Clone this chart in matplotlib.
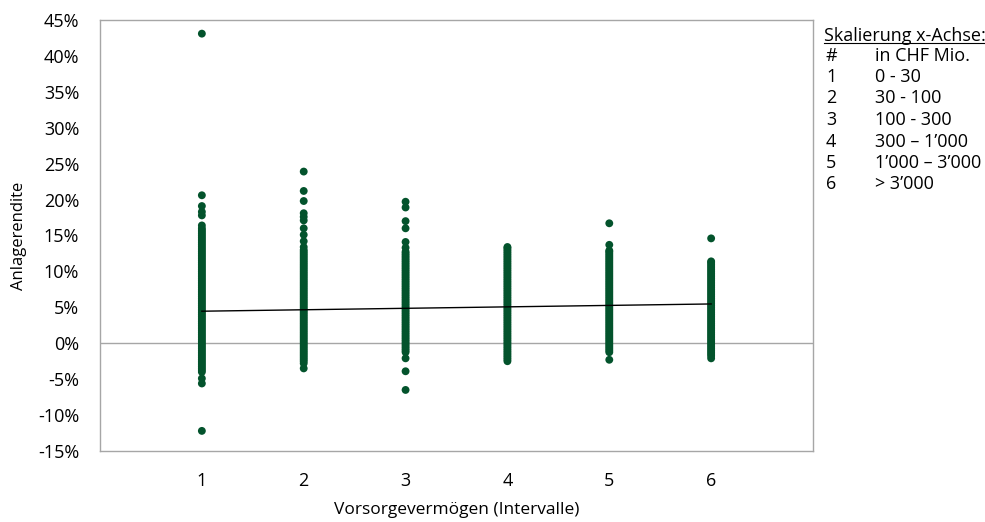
import matplotlib
matplotlib.use("Agg")
import matplotlib.pyplot as plt
from matplotlib.ticker import FuncFormatter

plt.rcParams['font.family'] = ['Open Sans', 'DejaVu Sans']

# Returns (%) per asset interval
interval_1 = [43.1, 20.6, 19.1, 18.3, 17.8, 16.4,
              16.0, 15.75, 15.5, 15.25, 15.0, 14.75, 14.5, 14.25, 14.0, 13.75, 13.5, 13.25,
              13.0, 12.75, 12.5, 12.25, 12.0, 11.75, 11.5, 11.25, 11.0, 10.75, 10.5, 10.25,
              10.0, 9.75, 9.5, 9.25, 9.0, 8.75, 8.5, 8.25, 8.0, 7.75, 7.5, 7.25, 7.0, 6.75,
              6.5, 6.25, 6.0, 5.75, 5.5, 5.25, 5.0, 4.75, 4.5, 4.25, 4.0, 3.75, 3.5, 3.25,
              3.0, 2.75, 2.5, 2.25, 2.0, 1.75, 1.5, 1.25, 1.0, 0.75, 0.5, 0.25, 0.0, -0.25,
              -0.5, -0.75, -1.0, -1.25, -1.5, -1.75, -2.0, -2.25, -2.5, -2.75, -3.0, -3.25,
              -3.5, -3.75, -4.0,
              -4.9, -5.6, -12.2]
interval_2 = [23.9, 21.2, 19.8, 18.1, 17.6, 17.1, 16.0, 15.1, 14.2,
              13.4, 13.0, 12.75, 12.5, 12.25, 12.0, 11.75, 11.5, 11.25, 11.0, 10.75, 10.5,
              10.25, 10.0, 9.75, 9.5, 9.25, 9.0, 8.75, 8.5, 8.25, 8.0, 7.75, 7.5, 7.25, 7.0,
              6.75, 6.5, 6.25, 6.0, 5.75, 5.5, 5.25, 5.0, 4.75, 4.5, 4.25, 4.0, 3.75, 3.5,
              3.25, 3.0, 2.75, 2.5, 2.25, 2.0, 1.75, 1.5, 1.25, 1.0, 0.75, 0.5, 0.25, 0.0,
              -0.25, -0.5, -0.75, -1.0, -1.25, -1.5, -1.75, -2.0, -2.25, -2.5, -2.8,
              -3.5]
interval_3 = [19.7, 18.9, 17.0, 16.0, 14.1, 13.3,
              12.75, 12.5, 12.25, 12.0, 11.75, 11.5, 11.25, 11.0, 10.75, 10.5, 10.25, 10.0,
              9.75, 9.5, 9.25, 9.0, 8.75, 8.5, 8.25, 8.0, 7.75, 7.5, 7.25, 7.0, 6.75, 6.5,
              6.25, 6.0, 5.75, 5.5, 5.25, 5.0, 4.75, 4.5, 4.25, 4.0, 3.75, 3.5, 3.25, 3.0,
              2.75, 2.5, 2.25, 2.0, 1.75, 1.5, 1.25, 1.0, 0.75, 0.5, 0.25, 0.0, -0.25, -0.5,
              -0.75, -1.0, -1.25,
              -2.1, -3.9, -6.5]
interval_4 = [13.4, 13.25, 13.0, 12.75, 12.5, 12.25, 12.0, 11.75, 11.5, 11.25, 11.0,
              10.75, 10.5, 10.25, 10.0, 9.75, 9.5, 9.25, 9.0, 8.75, 8.5, 8.25, 8.0, 7.75,
              7.5, 7.25, 7.0, 6.75, 6.5, 6.25, 6.0, 5.75, 5.5, 5.25, 5.0, 4.75, 4.5, 4.25,
              4.0, 3.75, 3.5, 3.25, 3.0, 2.75, 2.5, 2.25, 2.0, 1.75, 1.5, 1.25, 1.0, 0.75,
              0.5, 0.25, 0.0, -0.25, -0.5, -0.75, -1.0, -1.25, -1.5, -1.75, -2.0, -2.25,
              -2.5]
interval_5 = [16.7, 13.7,
              12.9, 12.75, 12.5, 12.25, 12.0, 11.75, 11.5, 11.25, 11.0, 10.75, 10.5, 10.25,
              10.0, 9.75, 9.5, 9.25, 9.0, 8.75, 8.5, 8.25, 8.0, 7.75, 7.5, 7.25, 7.0, 6.75,
              6.5, 6.25, 6.0, 5.75, 5.5, 5.25, 5.0, 4.75, 4.5, 4.25, 4.0, 3.75, 3.5, 3.25,
              3.0, 2.75, 2.5, 2.25, 2.0, 1.75, 1.5, 1.25, 1.0, 0.75, 0.5, 0.25, 0.0, -0.25,
              -0.5, -0.75, -1.0, -1.25,
              -2.3]
interval_6 = [14.6,
              11.4, 11.25, 11.0, 10.75, 10.5, 10.25, 10.0, 9.75, 9.5, 9.25, 9.0, 8.75, 8.5,
              8.25, 8.0, 7.75, 7.5, 7.25, 7.0, 6.75, 6.5, 6.25, 6.0, 5.75, 5.5, 5.25, 5.0,
              4.75, 4.5, 4.25, 4.0, 3.75, 3.5, 3.25, 3.0, 2.75, 2.5, 2.25, 2.0, 1.75, 1.5,
              1.25, 1.0, 0.75, 0.5, 0.25, 0.0, -0.25, -0.5, -0.75, -1.0, -1.25, -1.5, -1.75,
              -2.1]
intervals = [1, 2, 3, 4, 5, 6]
trend_x = [1, 6]
trend_y = [4.46, 5.47]

legend_title = "Skalierung x-Achse:"
legend_nums = ["#", "1", "2", "3", "4", "5", "6"]
legend_ranges = ["in CHF Mio.", "0 - 30", "30 - 100", "100 - 300",
                 "300 \u2013 1\u2019000", "1\u2019000 \u2013 3\u2019000", "> 3\u2019000"]

green = "#03532C"
grey = "#A6A6A6"

fig = plt.figure(figsize=(9.85, 5.22), dpi=100)
ax = fig.add_axes([100/985, 1-451/522, 713/985, 431/522])

groups = [interval_1, interval_2, interval_3, interval_4, interval_5, interval_6]
for xv, vals in zip(intervals, groups):
    ax.scatter([xv]*len(vals), vals, s=32, color=green, edgecolors='none', zorder=3)

ax.axhline(0, color=grey, lw=1.0, zorder=1)
ax.plot(trend_x, trend_y, color='black', lw=1.0, zorder=4)

ax.set_xlim(0, 7)
ax.set_ylim(-15, 45)
ax.set_yticks(range(-15, 46, 5))
ax.set_xticks(intervals)
ax.yaxis.set_major_formatter(FuncFormatter(lambda v, p: f"{int(v)}%"))
ax.tick_params(axis='both', length=0, labelsize=13, colors='#000000')
ax.tick_params(axis='x', pad=15)
ax.tick_params(axis='y', pad=15)
for s in ax.spines.values():
    s.set_color(grey)
    s.set_linewidth(1.0)

ax.set_ylabel("Anlagerendite", fontsize=12, labelpad=8)
ax.set_xlabel("Vorsorgevermögen (Intervalle)", fontsize=12.5, labelpad=9)

t = fig.text(824/985, 1-36/522, legend_title, fontsize=13, va='center', ha='left')
fig.canvas.draw()
bb = t.get_window_extent()
fig.add_artist(plt.Line2D([bb.x0/985, bb.x1/985], [(bb.y0+2)/522, (bb.y0+2)/522],
                          color='black', lw=0.8, transform=fig.transFigure))

row_y = [56, 77, 98, 120, 142, 163, 184]
for n, r, yy in zip(legend_nums, legend_ranges, row_y):
    fig.text(826/985, 1-yy/522, n, fontsize=13, va='center', ha='left')
    fig.text(875/985, 1-yy/522, r, fontsize=13, va='center', ha='left')

fig.savefig("out.png", dpi=100)
